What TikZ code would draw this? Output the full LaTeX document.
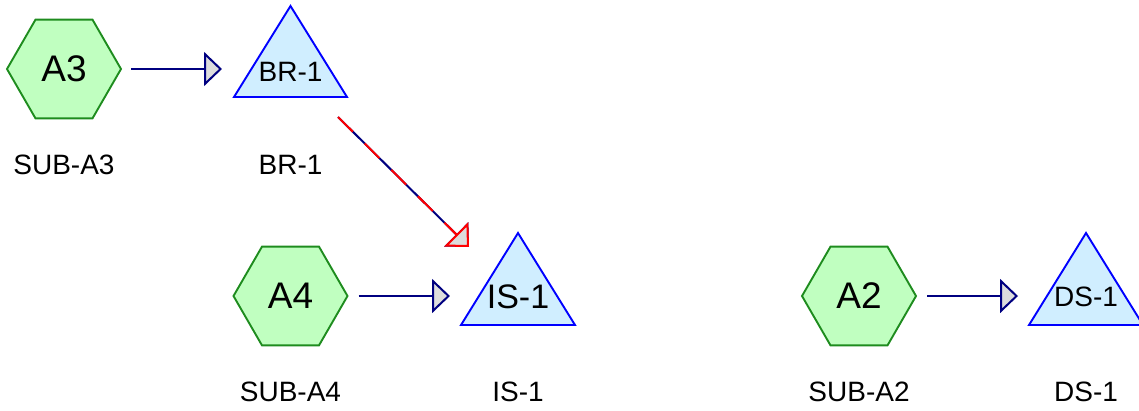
\documentclass[tikz,border=0pt]{standalone}
\usepackage{fontspec}
\setmainfont{Liberation Sans}
\usetikzlibrary{shapes.geometric,arrows.meta,calc}
\definecolor{hexfill}{HTML}{C0FFC0}
\definecolor{hexline}{HTML}{1E8C1E}
\definecolor{trifill}{HTML}{D0EEFF}
\definecolor{triline}{HTML}{0000FF}
\definecolor{connline}{HTML}{000080}
\definecolor{tipfill}{HTML}{DDDDDD}
\definecolor{hotline}{HTML}{FF0000}
\tikzset{
 hexnode/.style={regular polygon, regular polygon sides=6, minimum size=114pt, inner sep=0pt, outer sep=0pt, draw=hexline, fill=hexfill, line width=1.9pt, font=\fontsize{37}{40}\selectfont},
 trinode/.style={inner sep=0pt, outer sep=0pt, minimum width=114pt, minimum height=92pt},
 trishape/.style={draw=triline, fill=trifill, line width=1.9pt, line join=miter},
 tritext/.style={inner sep=0pt},
 caption/.style={font=\fontsize{28}{32}\selectfont, inner sep=0pt},
 conn/.style={draw=connline, line width=2pt, -{Triangle[length=18pt,width=34pt,fill=tipfill]}},
 hotconn/.style={draw=hotline, line width=2pt, dash pattern=on 21pt off 16.5pt, -{Triangle[length=18pt,width=34pt,fill=tipfill]}},
}
\begin{document}
\begin{tikzpicture}[x=1pt,y=-1pt]
\useasboundingbox (0,0) rectangle (1139,410);
% hexagons
\node[hexnode] (a3) at (64,69) {A3};
\node[hexnode] (a4) at (290.5,296) {A4};
\node[hexnode] (a2) at (859,296) {A2};
% triangles
\node[trinode, minimum width=113pt, minimum height=91pt] (br1) at (290.5,51.5) {};
\draw[trishape] (br1.south west) -- (br1.north) -- (br1.south east) -- cycle;
\node[tritext, font=\fontsize{28}{32}\selectfont] (br1t) at (290.5,72) {BR-1};
\node[trinode] (is1) at (518,279) {};
\draw[trishape] (is1.south west) -- (is1.north) -- (is1.south east) -- cycle;
\node[tritext, font=\fontsize{34}{38}\selectfont] (is1t) at (518,297) {IS-1};
\node[trinode] (ds1) at (1086,279) {};
\draw[trishape] (ds1.south west) -- (ds1.north) -- (ds1.south east) -- cycle;
\node[tritext, font=\fontsize{28}{32}\selectfont] (ds1t) at (1086,297) {DS-1};
% connectors
\draw[conn, shorten <=10pt, shorten >=12pt] (a3.east) -- (a3.east -| br1.west);
\draw[conn, shorten <=11pt, shorten >=11pt] (a4.east) -- (a4.east -| is1.west);
\draw[conn, shorten <=11pt, shorten >=11pt] (a2.east) -- (a2.east -| ds1.west);
\draw[conn] ($(br1.south east)+(-9,20)$) -- ($(is1.north west)+(8,14)$);
\draw[hotconn] ($(br1.south east)+(-9,20)$) -- ($(is1.north west)+(8,14)$);
% captions
\node[caption] (capa3) at (64,164.5) {SUB-A3};
\node[caption] (capbr1) at (290.5,164.5) {BR-1};
\node[caption] (capa4) at (290.5,392) {SUB-A4};
\node[caption] (capis1) at (518,392) {IS-1};
\node[caption] (capa2) at (859,392) {SUB-A2};
\node[caption] (capds1) at (1086,392) {DS-1};
\end{tikzpicture}
\end{document}
